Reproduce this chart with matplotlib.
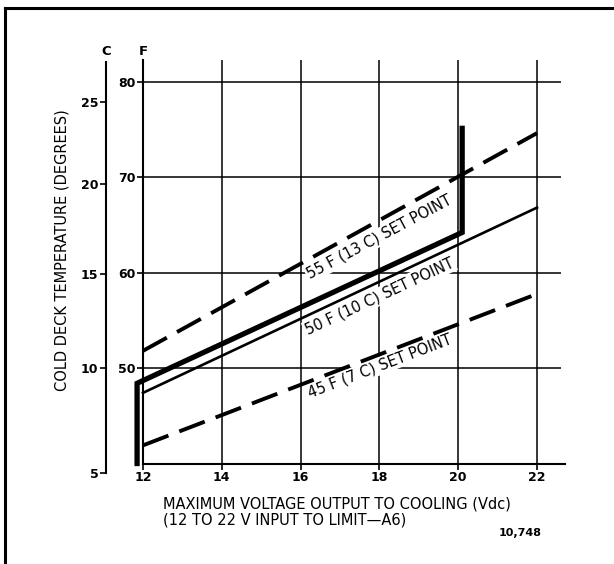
import matplotlib.pyplot as plt
from matplotlib.lines import Line2D
from matplotlib import transforms

# valores (F en el eje izquierdo, voltios abajo)
volts_55 = [12, 22]
temp_55 = [51.8, 74.6]
volts_50 = [12, 22]
temp_50 = [47.4, 66.8]
volts_45 = [12, 21.9]
temp_45 = [41.9, 57.6]
volts_limit = [11.85, 11.85, 20.1, 20.1]
temp_limit = [40.0, 48.4, 64.2, 75.1]

x_ticks = [12, 14, 16, 18, 20, 22]
f_ticks = [50, 60, 70, 80]
c_labels = ['5', '10', '15', '20', '25']
# donde caen las marcas C sobre la escala F, tal como estan dibujadas
c_ticks_on_f = [39.0, 50.0, 59.8, 69.3, 77.85]

set_point_labels = ['55 F (13 C) SET POINT', '50 F (10 C) SET POINT', '45 F (7 C) SET POINT']
label_x = [18.0, 18.0, 18.0]
label_y = [63.7, 57.5, 50.2]
label_rot = [28, 25, 21]

fig = plt.figure(figsize=(6.14, 5.64), dpi=100)
ax = fig.add_axes([0.2008, 0.1443, 0.7316, 0.7619])
ax.set_xlim(11.5, 22.9)
ax.set_ylim(38, 83)

ax.spines['top'].set_visible(False)
ax.spines['right'].set_visible(False)
ax.spines['left'].set_position(('data', 12))
ax.spines['bottom'].set_position(('data', 40))
ax.spines['left'].set_bounds(40, 82.25)
ax.spines['bottom'].set_bounds(12, 22.7)
for s in ['left', 'bottom']:
    ax.spines[s].set_linewidth(1.5)

ax.set_xticks(x_ticks)
ax.set_xticklabels([str(v) for v in x_ticks], fontweight='bold', fontsize=9)
ax.set_yticks(f_ticks)
ax.set_yticklabels([str(v) for v in f_ticks], fontweight='bold', fontsize=9)
ax.tick_params(direction='out', length=4, width=1.2, pad=1.5)

# rejilla
ax.vlines(x_ticks[1:], 40, 82.25, color='black', lw=1.1, zorder=1)
ax.hlines(f_ticks, 12, 22.6, color='black', lw=1.1, zorder=1)

# curvas
ax.plot(volts_55, temp_55, color='black', lw=2.8, linestyle=(0, (7, 3)), zorder=3)
ax.plot(volts_50, temp_50, color='black', lw=1.9, zorder=3)
ax.plot(volts_45, temp_45, color='black', lw=2.8, linestyle=(0, (7, 3)), zorder=3)
ax.plot(volts_limit, temp_limit, color='black', lw=3.8, solid_joinstyle='miter', zorder=3)

for txt, x, y, r in zip(set_point_labels, label_x, label_y, label_rot):
    ax.text(x, y, txt, rotation=r, rotation_mode='anchor', ha='center', va='center',
            fontsize=10.5, zorder=2,
            bbox=dict(facecolor='white', edgecolor='none', pad=1.0))

ax.text(12, 82.5, 'F', ha='center', va='bottom', fontweight='bold', fontsize=9.5)

# eje en grados C
ax2 = ax.twinx()
ax2.set_ylim(38, 83)
ax2.spines['top'].set_visible(False)
ax2.spines['right'].set_visible(False)
ax2.spines['bottom'].set_visible(False)
ax2.spines['left'].set_visible(True)
ax2.spines['left'].set_position(('axes', -0.0385))
ax2.spines['left'].set_bounds(39.0, 82.0)
ax2.spines['left'].set_linewidth(1.5)
ax2.yaxis.set_ticks_position('left')
ax2.set_yticks(c_ticks_on_f)
ax2.set_yticklabels(c_labels, fontweight='bold', fontsize=9)
ax2.tick_params(direction='out', length=4, width=1.2, pad=1.5)
trans = transforms.blended_transform_factory(ax.transAxes, ax.transData)
ax.text(-0.0385, 82.5, 'C', transform=trans, ha='center', va='bottom', fontweight='bold', fontsize=9.5)

fig.text(62 / 614, 1 - 250 / 564, 'COLD DECK TEMPERATURE (DEGREES)', rotation=90,
         ha='center', va='center', fontsize=10.5)
fig.text(163 / 614, 1 - 512 / 564,
         'MAXIMUM VOLTAGE OUTPUT TO COOLING (Vdc)\n(12 TO 22 V INPUT TO LIMIT\u2014A6)',
         ha='left', va='center', fontsize=10.5, linespacing=1.1)
fig.text(542 / 614, 1 - 533 / 564, '10,748', ha='right', va='center', fontweight='bold', fontsize=8)

# marco del documento
fig.add_artist(Line2D([5 / 614, 5 / 614], [0, 1 - 8 / 564], transform=fig.transFigure, color='black', lw=2.2))
fig.add_artist(Line2D([5 / 614, 1], [1 - 8 / 564, 1 - 8 / 564], transform=fig.transFigure, color='black', lw=2.2))

fig.savefig('out.png', dpi=100)
